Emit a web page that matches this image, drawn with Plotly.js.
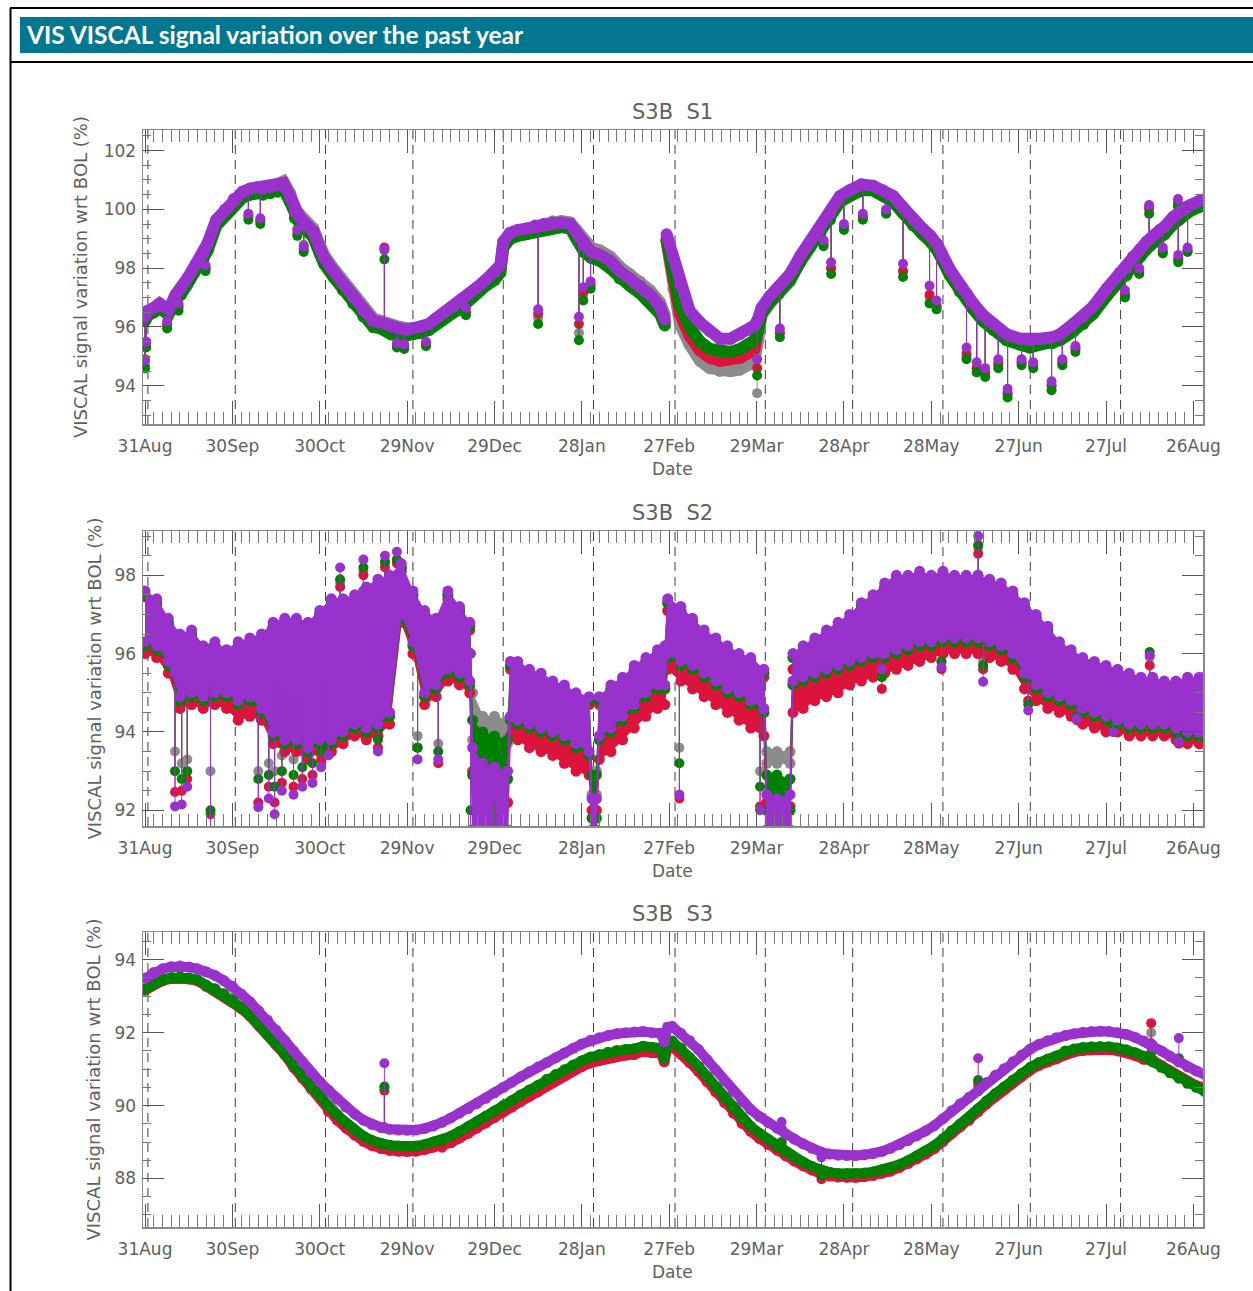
<!DOCTYPE html>
<html>
<head>
<meta charset="utf-8">
<script src="https://cdn.plot.ly/plotly-3.0.1.min.js"></script>
<style>
  html, body { margin: 0; padding: 0; background: #fff; }
  #chart { width: 1253px; height: 1291px; }
</style>
</head>
<body>
<div id="chart"></div>
<script>
// ---------------- Time axis ----------------
const START_DATE = '2022-08-31';            // day 0 of all day-offset arrays
const tickDays   = [0, 30, 60, 90, 120, 150, 180, 210, 240, 270, 300, 330, 360];
const tickText   = ['31Aug', '30Sep', '30Oct', '29Nov', '29Dec', '28Jan', '27Feb',
                    '29Mar', '28Apr', '28May', '27Jun', '27Jul', '26Aug'];
const monthStarts = ['2022-09-01', '2022-10-01', '2022-11-01', '2022-12-01', '2023-01-01',
                     '2023-02-01', '2023-03-01', '2023-04-01', '2023-05-01', '2023-06-01',
                     '2023-07-01', '2023-08-01'];
const dayRange = [-0.69, 363.3];

// ---------------- S3B S1: daily trend per channel ----------------
const s1Days = [0,1,3,5,7,8.2,10.5,12.3,14.5,17.5,
  20,21.5,24.5,27.5,30.5,33.5,36,38.5,40.5,43,
  45.5,47.5,49.8,51.5,53,55.2,57.8,60,61.5,64.7,
  68,71.5,75,78.4,81,84.5,87.5,90,92,94.5,
  97.5,100,103,106,108,111,114,117,120,122,
  123,125.3,128,131,134,137,140,143,146,148.2,
  150.8,153.3,156.2,159.7,163,166.5,169.9,173.4,176.8,178.5,
  178.8,179.1,181.4,183.7,187,190.6,194,197.4,201,204.3,
  207,209.3,210.6,211.7,214.6,217.5,221.5,224.9,228.3,231.8,
  235.2,238.6,242,246,250,253.4,257,260,263.7,267,
  269.7,272.1,276.4,279.8,282.4,284.4,287.8,291.3,295.9,300.4,
  303.9,307.3,311.6,314.2,318.7,322.2,325.6,330.2,334.8,337,
  339.3,341.8,343.9,348.5,350,353.1,355.1,357.7,359,362.3,
  364];
const s1Gray = [96.3,96.5,96.6,96.75,96.6,96.55,97.05,97.25,97.6,98.1,
  98.45,98.8,99.6,99.95,100.3,100.55,100.7,100.75,100.7,100.8,
  100.85,100.95,100.55,100.0,99.85,99.6,99.35,98.8,98.45,98.0,
  97.55,97.1,96.65,96.3,96.2,96.05,96.0,95.95,95.95,95.95,
  96.0,96.2,96.4,96.6,96.75,97.0,97.25,97.5,97.75,98.0,
  98.8,99.1,99.2,99.25,99.4,99.5,99.6,99.6,99.55,99.3,
  98.85,98.7,98.6,98.4,98.05,97.8,97.55,97.25,96.85,96.4,
  null,98.9,97.3,96.1,95.4,94.85,94.6,94.5,94.5,94.55,
  94.7,94.85,95.6,96.4,96.8,97.1,97.55,98.2,98.7,99.15,
  99.7,100.3,100.5,100.7,100.7,100.55,100.35,100.0,99.55,99.25,
  99.0,98.7,97.9,97.35,97.05,96.75,96.35,96.05,95.7,95.5,
  95.45,95.5,95.6,95.7,96.05,96.3,96.65,97.25,97.8,97.95,
  98.35,98.6,98.85,99.25,99.35,99.7,99.85,100.05,100.1,100.25,
  100.3];
const s1Red = [96.25,96.45,96.55,96.7,96.55,96.5,97.0,97.2,97.55,98.05,
  98.4,98.75,99.5,99.9,100.25,100.5,100.6,100.65,100.6,100.65,
  100.7,100.8,100.35,99.8,99.65,99.4,99.15,98.6,98.25,97.8,
  97.35,96.9,96.45,96.1,96.05,95.9,95.85,95.8,95.85,95.9,
  96.0,96.15,96.35,96.55,96.7,96.95,97.2,97.45,97.7,97.95,
  98.75,99.05,99.15,99.2,99.3,99.4,99.45,99.45,99.4,99.1,
  98.6,98.45,98.3,98.1,97.75,97.5,97.25,96.95,96.55,96.15,
  null,98.95,97.6,96.45,95.7,95.2,94.95,94.85,94.9,94.95,
  95.1,95.25,96.0,96.5,96.9,97.2,97.65,98.25,98.75,99.2,
  99.7,100.3,100.5,100.7,100.65,100.5,100.3,99.95,99.5,99.2,
  98.95,98.65,97.8,97.25,96.95,96.65,96.25,95.95,95.6,95.45,
  95.4,95.45,95.5,95.6,95.95,96.15,96.5,97.1,97.65,97.8,
  98.2,98.45,98.7,99.1,99.2,99.55,99.7,99.95,100.0,100.15,
  100.2];
const s1Green = [96.2,96.4,96.5,96.65,96.5,96.45,96.95,97.1,97.45,97.95,
  98.3,98.6,99.45,99.8,100.15,100.4,100.5,100.55,100.5,100.55,
  100.6,100.7,100.25,99.7,99.55,99.3,99.05,98.5,98.15,97.7,
  97.25,96.8,96.35,96.0,95.95,95.75,95.7,95.7,95.75,95.8,
  95.9,96.1,96.3,96.5,96.6,96.9,97.15,97.4,97.6,97.85,
  98.7,99.0,99.1,99.15,99.25,99.35,99.4,99.4,99.35,99.0,
  98.55,98.35,98.25,98.0,97.65,97.4,97.15,96.85,96.45,96.05,
  null,99.0,97.9,96.75,96.0,95.5,95.25,95.15,95.15,95.25,
  95.4,95.55,95.9,96.45,96.85,97.15,97.6,98.2,98.7,99.15,
  99.65,100.25,100.45,100.65,100.65,100.5,100.25,99.9,99.45,99.15,
  98.9,98.6,97.75,97.2,96.9,96.6,96.2,95.9,95.55,95.4,
  95.3,95.4,95.45,95.55,95.85,96.1,96.45,97.05,97.6,97.75,
  98.15,98.4,98.65,99.05,99.15,99.5,99.65,99.9,99.95,100.1,
  100.15];
const s1Purple = [96.35,96.55,96.65,96.8,96.65,96.6,97.1,97.3,97.65,98.15,
  98.5,98.85,99.65,100.0,100.35,100.6,100.7,100.75,100.7,100.75,
  100.8,100.9,100.45,99.9,99.75,99.5,99.25,98.7,98.35,97.9,
  97.45,97.0,96.55,96.2,96.15,96.0,95.95,95.9,95.95,96.0,
  96.1,96.3,96.5,96.7,96.85,97.1,97.35,97.6,97.85,98.1,
  98.9,99.2,99.3,99.35,99.45,99.5,99.55,99.55,99.5,99.2,
  98.75,98.55,98.45,98.25,97.9,97.65,97.4,97.1,96.7,96.25,
  null,99.15,98.35,97.45,96.55,96.15,95.85,95.6,95.6,95.75,
  95.9,96.05,96.3,96.65,97.05,97.35,97.8,98.4,98.9,99.35,
  99.85,100.45,100.65,100.85,100.8,100.65,100.45,100.1,99.65,99.35,
  99.1,98.8,97.95,97.4,97.1,96.8,96.4,96.1,95.75,95.6,
  95.55,95.6,95.65,95.75,96.1,96.35,96.7,97.3,97.85,98.0,
  98.4,98.65,98.9,99.3,99.4,99.75,99.9,100.1,100.15,100.3,
  100.35];
// S1 outlier orbits: day, trend level at that day, outlier value per channel
const s1SpikeDays = [0,0.4,7.6,11.5,20.8,35.5,39.6,52.3,54.5,82.2,
  86.5,89,96.5,110.2,135,149,150.5,153,210.2,218,
  233,235.6,240,246.5,254.5,260.3,269.4,271.8,282.1,285.6,
  288.5,293,296.2,301,305,311.3,315,319.5,336.5,341.4,
  344.8,349.5,354.7,354.8,358];
const s1SpikeBase = [96.35,96.35,96.6,97.2,98.6,100.65,100.75,99.8,99.6,96.1,
  96.0,95.95,96.05,97.0,99.45,99.0,98.8,98.6,96.1,97.35,
  99.5,99.9,100.5,100.85,100.6,100.05,99.1,98.85,97.15,96.65,
  96.3,95.95,95.7,95.6,95.55,95.65,95.8,96.15,97.95,98.55,
  98.95,99.35,99.85,99.85,100.1];
const s1SpikeGray = [94.7,95.4,96.1,96.7,98.0,99.8,99.65,99.35,98.8,98.6,
  95.4,95.35,95.45,96.5,96.3,95.8,97.1,97.4,93.75,95.8,
  98.8,98.0,99.4,99.7,99.9,97.9,97.0,96.7,95.0,94.6,
  94.4,94.7,93.7,94.8,94.7,94.0,94.8,95.3,97.15,97.9,
  100.0,98.6,100.2,98.3,98.6];
const s1SpikeRed = [94.9,95.5,96.1,96.7,98.0,99.75,99.6,99.2,98.65,98.7,
  95.35,95.3,95.4,96.5,96.45,96.1,97.2,97.45,94.6,95.8,
  98.85,98.0,99.4,99.75,99.9,97.9,97.1,96.7,95.1,94.6,
  94.45,94.75,93.75,94.8,94.7,94.0,94.8,95.25,97.1,97.85,
  100.05,98.55,100.2,98.3,98.6];
const s1SpikeGreen = [94.6,95.3,95.95,96.55,97.9,99.65,99.5,99.1,98.55,98.3,
  95.3,95.25,95.35,96.4,96.1,95.55,96.9,97.3,94.35,95.65,
  98.75,97.8,99.3,99.65,99.85,97.7,96.8,96.6,94.9,94.45,
  94.3,94.6,93.6,94.7,94.6,93.85,94.7,95.15,97.0,97.8,
  99.85,98.5,100.1,98.2,98.55];
const s1SpikePurple = [94.85,95.5,96.2,96.8,98.1,99.85,99.7,99.3,98.75,98.64,
  95.45,95.4,95.5,96.65,96.6,96.35,97.35,97.55,94.9,95.95,
  98.95,98.2,99.5,99.85,100.0,98.15,97.4,96.9,95.3,94.8,
  94.6,94.9,93.9,94.9,94.8,94.15,94.9,95.35,97.25,98.0,
  100.15,98.7,100.35,98.45,98.7];

// ---------------- S3B S2: upper / lower spread of the daily data ----------------
const s2Days = [0,4,8,12,16,20,24,28,32,36,
  40,44,48,52,56,60,64,68,72,76,
  80,84,88,92,96,100,104,108,111.5,112.5,
  116,120,124.5,125.5,128,132,136,140,144,148,
  152.5,153.5,155,156,160,164,168,172,176,178.5,
  179.5,184,188,192,196,200,204,208,212.5,213.5,
  217,221.5,222.5,226,230,234,238,242,246,250,
  254,258,262,266,270,274,278,282,286,290,
  294,298,302,306,310,314,318,322,326,330,
  334,338,342,346,350,354,358,362,364];
const s2PurpleHi = [97.6,97.4,96.9,96.5,96.6,96.2,96.3,96.1,96.3,96.4,
  96.5,96.8,96.9,96.9,96.8,97.1,97.4,97.4,97.5,97.7,
  97.9,98.0,98.3,97.6,97.1,96.9,97.6,97.2,96.8,93.6,
  93.2,93.1,93.0,95.8,95.8,95.6,95.5,95.3,95.2,95.0,
  94.9,92.3,92.3,94.9,95.2,95.4,95.7,95.9,96.1,96.2,
  97.4,97.2,96.9,96.6,96.4,96.2,96.0,95.9,95.6,92.4,
  92.3,92.4,96.0,96.2,96.4,96.6,96.8,97.0,97.3,97.5,
  97.8,98.0,98.0,98.1,98.0,98.1,98.0,98.0,98.0,97.9,
  97.8,97.6,97.3,97.0,96.7,96.3,96.1,95.9,95.8,95.7,
  95.6,95.5,95.4,95.4,95.3,95.3,95.4,95.4,95.4];
const s2PurpleLo = [96.3,96.2,95.8,94.9,95.0,94.9,95.0,95.0,94.8,94.9,
  94.6,94.0,93.8,93.8,93.6,93.8,93.8,94.0,94.2,94.1,
  94.2,94.5,97.0,96.3,95.0,95.2,95.6,95.5,95.3,91.5,
  91.5,91.5,91.5,94.4,94.3,94.2,94.1,94.0,93.9,93.7,
  93.5,91.5,91.5,93.9,94.1,94.4,94.7,95.0,95.2,95.2,
  96.0,95.8,95.7,95.5,95.3,95.1,95.0,94.8,94.6,91.5,
  91.5,91.5,95.3,95.4,95.5,95.6,95.7,95.8,95.9,96.0,
  96.0,96.1,96.2,96.3,96.3,96.4,96.4,96.4,96.4,96.3,
  96.2,96.0,95.5,95.2,95.0,94.9,94.8,94.6,94.5,94.4,
  94.3,94.2,94.2,94.2,94.2,94.1,94.0,94.0,94.0];
const s2RedHi = [97.45,97.25,96.75,96.35,96.45,96.05,96.15,95.95,96.15,96.25,
  96.35,96.65,96.75,96.75,96.65,96.95,97.25,97.25,97.35,97.55,
  97.75,97.85,98.1,97.4,96.9,96.7,97.4,97.0,96.6,93.0,
  92.4,92.3,92.2,95.6,95.6,95.4,95.3,95.1,95.0,94.8,
  94.7,92.0,92.0,94.7,95.0,95.2,95.5,95.7,95.9,96.0,
  97.1,97.0,96.7,96.4,96.2,96.0,95.8,95.7,95.4,92.2,
  92.0,92.1,95.6,95.9,96.1,96.3,96.5,96.7,97.0,97.2,
  97.5,97.7,97.8,97.9,97.8,97.9,97.8,97.8,97.8,97.7,
  97.6,97.4,97.1,96.8,96.5,96.1,95.9,95.7,95.6,95.5,
  95.4,95.3,95.2,95.2,95.1,95.1,95.2,95.2,95.2];
const s2RedLo = [96.0,95.9,95.5,94.6,94.7,94.6,94.7,94.6,94.3,94.4,
  94.3,93.7,93.5,93.5,93.3,93.5,93.5,93.7,93.9,93.8,
  93.9,94.2,96.8,96.0,94.7,94.9,95.3,95.2,95.0,91.5,
  91.5,91.5,91.5,93.9,93.8,93.6,93.5,93.4,93.2,93.0,
  92.9,91.5,91.5,93.3,93.5,93.8,94.1,94.4,94.6,94.7,
  95.6,95.3,95.1,94.9,94.7,94.5,94.3,94.1,93.9,91.5,
  91.5,91.5,94.5,94.6,94.8,94.9,95.0,95.2,95.3,95.4,
  95.5,95.6,95.7,95.8,95.9,96.0,96.0,96.0,96.0,95.9,
  95.8,95.6,95.1,94.8,94.6,94.5,94.4,94.2,94.1,94.0,
  94.0,93.9,93.9,93.9,93.9,93.8,93.7,93.7,93.7];
const s2GreenHi = [97.5,97.3,96.8,96.4,96.5,96.1,96.2,96.0,96.2,96.3,
  96.4,96.7,96.8,96.8,96.7,97.0,97.3,97.3,97.4,97.6,
  97.8,97.9,98.2,97.5,97.0,96.8,97.5,97.1,96.7,94.3,
  94.0,93.9,93.8,95.7,95.7,95.5,95.4,95.2,95.1,94.9,
  94.8,92.9,92.9,94.8,95.1,95.3,95.6,95.8,96.0,96.1,
  97.3,97.1,96.8,96.5,96.3,96.1,95.9,95.8,95.5,92.9,
  92.9,92.8,95.9,96.1,96.3,96.5,96.7,96.9,97.2,97.4,
  97.7,97.9,97.9,98.0,97.9,98.0,97.9,97.9,97.9,97.8,
  97.7,97.5,97.2,96.9,96.6,96.2,96.0,95.8,95.7,95.6,
  95.5,95.4,95.3,95.3,95.2,95.2,95.3,95.3,95.3];
const s2GreenLo = [96.2,96.1,95.7,94.8,94.9,94.8,94.9,94.9,94.7,94.8,
  94.5,93.9,93.7,93.7,93.5,93.7,93.7,93.9,94.1,94.0,
  94.1,94.4,96.9,96.2,94.9,95.1,95.5,95.4,95.2,92.9,
  92.9,92.9,92.8,94.3,94.2,94.1,94.0,93.9,93.8,93.6,
  93.4,91.8,91.8,93.8,94.0,94.3,94.6,94.9,95.1,95.1,
  95.9,95.7,95.6,95.4,95.2,95.0,94.9,94.7,94.5,92.0,
  92.0,92.0,95.2,95.3,95.4,95.5,95.6,95.7,95.8,95.9,
  95.9,96.0,96.1,96.2,96.2,96.3,96.3,96.3,96.3,96.2,
  96.1,95.9,95.4,95.1,94.9,94.8,94.7,94.5,94.4,94.3,
  94.2,94.1,94.1,94.1,94.1,94.0,93.9,93.9,93.9];
const s2GrayHi = [97.5,97.3,96.8,96.4,96.5,96.1,96.2,96.0,96.2,96.3,
  96.4,96.7,96.8,96.8,96.7,97.0,97.3,97.3,97.4,97.6,
  97.8,97.9,98.2,97.5,97.0,96.8,97.5,97.1,96.7,95.0,
  94.4,94.4,94.3,95.7,95.7,95.5,95.4,95.2,95.1,94.9,
  94.8,93.0,93.0,94.8,95.1,95.3,95.6,95.8,96.0,96.1,
  97.3,97.1,96.8,96.5,96.3,96.1,95.9,95.8,95.5,93.5,
  93.5,93.5,95.9,96.1,96.3,96.5,96.7,96.9,97.2,97.4,
  97.7,97.9,97.9,98.0,97.9,98.0,97.9,97.9,97.9,97.8,
  97.7,97.5,97.2,96.9,96.6,96.2,96.0,95.8,95.7,95.6,
  95.5,95.4,95.3,95.3,95.2,95.2,95.3,95.3,95.3];
const s2GrayLo = [96.2,96.1,95.7,94.8,94.9,94.8,94.9,94.9,94.7,94.8,
  94.5,93.9,93.7,93.7,93.5,93.7,93.7,93.9,94.1,94.0,
  94.1,94.4,96.9,96.2,94.9,95.1,95.5,95.4,95.2,93.8,
  93.8,93.8,93.7,94.3,94.2,94.1,94.0,93.9,93.8,93.6,
  93.4,92.4,92.4,93.8,94.0,94.3,94.6,94.9,95.1,95.1,
  95.9,95.7,95.6,95.4,95.2,95.0,94.9,94.7,94.5,93.2,
  93.2,93.2,95.2,95.3,95.4,95.5,95.6,95.7,95.8,95.9,
  95.9,96.0,96.1,96.2,96.2,96.3,96.3,96.3,96.3,96.2,
  96.1,95.9,95.4,95.1,94.9,94.8,94.7,94.5,94.4,94.3,
  94.2,94.1,94.1,94.1,94.1,94.0,93.9,93.9,93.9];
// S2 outlier orbits
const s2SpikeDays = [10.3,12.6,14.5,22.5,38.9,42.5,44.5,47,51,54,
  57.5,60.5,63,67,75,80,82.4,86.5,93.6,100.7,
  111.8,183.5,211.2,253,273.5,286.1,287.8,303.3,320,332.5,
  345,355];
const s2SpikeBase = [95.5,95.5,95.3,95.5,95.3,95.5,95.3,95.2,95.0,95.0,
  95.2,95.3,95.4,97.3,97.6,95.5,97.8,98.0,96.5,96.0,
  96.0,96.5,95.2,96.0,96.5,98.0,96.5,95.5,95.0,94.8,
  95.2,94.5];
const s2SpikeGray = [93.5,93.2,93.3,93.0,93.0,93.2,93.0,93.4,93.3,93.5,
  93.6,93.8,94.0,97.8,98.1,94.0,98.3,98.4,93.9,93.7,
  95.0,93.6,93.0,95.5,95.8,98.7,95.8,94.8,94.5,94.1,
  95.9,93.9];
const s2SpikeRed = [92.47,92.5,92.8,91.9,92.2,92.6,92.2,92.7,92.6,92.8,
  92.9,93.3,93.5,97.7,98.0,93.6,98.2,98.3,93.6,93.2,
  91.5,92.3,92.1,95.1,95.6,98.55,95.6,94.8,94.3,94.0,
  95.7,93.7];
const s2SpikeGreen = [93.0,92.8,93.0,92.0,92.8,92.9,92.6,93.0,92.9,93.1,
  93.2,93.5,93.7,97.9,98.2,93.8,98.35,98.4,93.6,93.5,
  92.0,93.2,92.6,95.4,95.8,98.77,95.7,94.7,94.4,94.1,
  96.04,93.8];
const s2SpikePurple = [92.1,92.15,92.6,91.3,92.08,92.3,91.9,92.5,92.4,92.6,
  92.7,93.1,93.4,98.2,98.4,93.5,98.5,98.6,93.3,93.3,
  91.3,92.4,92.0,95.6,95.66,99.0,95.28,94.55,94.34,94.0,
  95.95,93.75];

// ---------------- S3B S3: daily trend per channel ----------------
const s3Days = [0,3,6,9,12,15,18,21,24,27,
  30,33,36,39,42,45,48,51,54,57,
  60,63,66,69,72,75,78,81,84,87,
  90,93,96,99,102,105,108,111,114,117,
  120,123,126,129,132,135,138,141,144,147,
  150,153,156,159,162,165,168,171,174,177,
  178.3,179.5,181,184,187,190,193,196,199,202,
  205,208,211,214,217,220,223,226,229,232,
  235,238,241,244,247,250,253,256,259,262,
  265,268,271,274,277,280,283,286,289,292,
  295,298,301,304,307,310,313,316,319,322,
  325,328,331,334,337,340,343,346,349,352,
  355,358,361,364];
const s3Gray = [93.18,93.34,93.44,93.5,93.52,93.49,93.44,93.31,93.21,93.07,
  92.91,92.7,92.49,92.24,91.99,91.71,91.43,91.12,90.82,90.53,
  90.28,89.96,89.72,89.5,89.31,89.14,89.02,88.94,88.89,88.87,
  88.86,88.87,88.91,88.98,88.99,89.11,89.24,89.37,89.51,89.65,
  89.8,89.95,90.09,90.24,90.38,90.51,90.66,90.79,90.92,91.05,
  91.17,91.27,91.34,91.4,91.45,91.48,91.5,91.58,91.55,91.53,
  91.28,91.7,91.72,91.53,91.28,91.04,90.76,90.47,90.18,89.89,
  89.61,89.39,89.2,89.03,88.86,88.7,88.56,88.43,88.31,88.21,
  88.15,88.12,88.11,88.11,88.13,88.16,88.22,88.23,88.33,88.44,
  88.57,88.7,88.85,89.04,89.26,89.45,89.63,89.86,90.08,90.28,
  90.46,90.65,90.83,91.0,91.13,91.23,91.31,91.46,91.51,91.55,
  91.57,91.58,91.57,91.54,91.49,91.41,91.31,91.23,91.08,90.93,
  90.78,90.64,90.53,90.45];
const s3Red = [93.16,93.32,93.42,93.48,93.5,93.47,93.42,93.27,93.17,93.03,
  92.87,92.66,92.45,92.2,91.95,91.67,91.39,91.05,90.75,90.46,
  90.21,89.84,89.6,89.38,89.19,89.02,88.9,88.82,88.77,88.75,
  88.74,88.75,88.79,88.86,88.86,88.98,89.11,89.24,89.38,89.52,
  89.67,89.82,89.96,90.11,90.25,90.38,90.56,90.69,90.82,90.95,
  91.07,91.17,91.24,91.3,91.35,91.38,91.4,91.48,91.45,91.43,
  91.2,91.6,91.62,91.43,91.18,90.94,90.66,90.37,90.08,89.79,
  89.51,89.29,89.1,88.93,88.78,88.62,88.48,88.35,88.23,88.13,
  88.07,88.04,88.03,88.03,88.05,88.08,88.14,88.2,88.3,88.41,
  88.54,88.67,88.82,89.01,89.23,89.42,89.6,89.83,90.05,90.25,
  90.43,90.62,90.8,90.97,91.1,91.2,91.28,91.42,91.47,91.51,
  91.53,91.54,91.53,91.5,91.45,91.37,91.27,91.25,91.1,90.95,
  90.8,90.66,90.55,90.5];
const s3Green = [93.19,93.35,93.45,93.51,93.53,93.5,93.45,93.3,93.2,93.06,
  92.9,92.69,92.48,92.23,91.98,91.7,91.42,91.12,90.82,90.53,
  90.28,89.98,89.74,89.52,89.33,89.16,89.04,88.96,88.91,88.89,
  88.88,88.89,88.93,89.0,89.04,89.16,89.29,89.42,89.56,89.7,
  89.85,90.0,90.14,90.29,90.43,90.56,90.72,90.85,90.98,91.11,
  91.23,91.33,91.4,91.46,91.51,91.54,91.56,91.63,91.6,91.58,
  91.3,91.75,91.77,91.58,91.32,91.08,90.8,90.51,90.22,89.93,
  89.65,89.43,89.24,89.07,88.88,88.72,88.58,88.45,88.33,88.23,
  88.17,88.14,88.13,88.13,88.15,88.18,88.24,88.28,88.38,88.49,
  88.62,88.75,88.9,89.09,89.31,89.5,89.68,89.91,90.13,90.33,
  90.51,90.7,90.88,91.05,91.18,91.28,91.36,91.5,91.55,91.59,
  91.61,91.62,91.61,91.58,91.53,91.45,91.35,91.2,91.05,90.9,
  90.75,90.61,90.5,90.38];
const s3Purple = [93.49,93.65,93.75,93.81,93.83,93.8,93.75,93.67,93.57,93.43,
  93.27,93.06,92.85,92.6,92.35,92.07,91.79,91.5,91.2,90.91,
  90.66,90.42,90.18,89.96,89.77,89.6,89.48,89.4,89.35,89.33,
  89.32,89.33,89.37,89.44,89.54,89.66,89.79,89.92,90.06,90.2,
  90.35,90.5,90.64,90.79,90.93,91.06,91.18,91.31,91.44,91.57,
  91.69,91.79,91.86,91.92,91.97,92.0,92.02,92.03,92.0,91.98,
  91.75,92.15,92.17,91.98,91.78,91.54,91.26,90.97,90.68,90.39,
  90.11,89.89,89.7,89.53,89.38,89.22,89.08,88.95,88.83,88.73,
  88.67,88.64,88.63,88.63,88.65,88.68,88.74,88.83,88.93,89.04,
  89.17,89.3,89.45,89.64,89.86,90.05,90.23,90.41,90.63,90.83,
  91.01,91.2,91.38,91.55,91.68,91.78,91.86,91.92,91.97,92.01,
  92.03,92.04,92.03,92.0,91.95,91.87,91.77,91.65,91.5,91.35,
  91.2,91.06,90.95,90.85];
// S3 outlier orbits
const s3SpikeDays   = [82.2, 218.6, 232.3, 286.1, 345.5, 355];
const s3SpikeBase   = [89.4, 89.35, 88.72, 90.4, 91.7, 91.2];
const s3SpikeGray   = [90.5, 88.98, 88.05, 90.65, 92.0, 91.28];
const s3SpikeRed    = [90.41, 88.9, 87.98, 90.57, 92.26, 91.25];
const s3SpikeGreen  = [90.52, 89.0, 88.08, 90.7, 91.45, 91.3];
const s3SpikePurple = [91.16, 89.55, 88.58, 91.3, 91.6, 91.85];

// ---------------- Figure ----------------
const W = 1253, H = 1291;
const px = v => v / W;          // page pixel -> paper x
const py = v => 1 - v / H;      // page pixel -> paper y
const DAY_MS = 86400000;
const T0 = Date.parse(START_DATE + 'T00:00:00Z');
const toDate = d => new Date(T0 + d * DAY_MS).toISOString().replace('T', ' ').slice(0, 19);

const CHANNELS = ['gray', 'red', 'green', 'purple'];
const COLORS = { gray: '#8c8c8c', red: '#dc143c', green: '#008000', purple: '#9932cc' };
const FONT = 'DejaVu Sans, Liberation Sans, sans-serif';
const TEXT_COLOR = '#606060';

const panels = [
  { name: 'S3B\u00a0\u00a0S1', top: 130, bottom: 424, range: [92.7, 102.7], yTitleX: 81, kind: 'trend',
    bandWidth: 12, markerSize: 12,
    days: s1Days, trend: { gray: s1Gray, red: s1Red, green: s1Green, purple: s1Purple },
    spikes: { days: s1SpikeDays, base: s1SpikeBase,
              gray: s1SpikeGray, red: s1SpikeRed, green: s1SpikeGreen, purple: s1SpikePurple } },
  { name: 'S3B\u00a0\u00a0S2', top: 531, bottom: 826, range: [91.6, 99.13], yTitleX: 94, kind: 'spread',
    markerSize: 11,
    days: s2Days,
    hi: { gray: s2GrayHi, red: s2RedHi, green: s2GreenHi, purple: s2PurpleHi },
    lo: { gray: s2GrayLo, red: s2RedLo, green: s2GreenLo, purple: s2PurpleLo },
    spikes: { days: s2SpikeDays, base: s2SpikeBase,
              gray: s2SpikeGray, red: s2SpikeRed, green: s2SpikeGreen, purple: s2SpikePurple } },
  { name: 'S3B\u00a0\u00a0S3', top: 932, bottom: 1227, range: [86.67, 94.76], yTitleX: 93, kind: 'trend',
    bandWidth: 10, markerSize: 11,
    days: s3Days, trend: { gray: s3Gray, red: s3Red, green: s3Green, purple: s3Purple },
    spikes: { days: s3SpikeDays, base: s3SpikeBase,
              gray: s3SpikeGray, red: s3SpikeRed, green: s3SpikeGreen, purple: s3SpikePurple } }
];

const traces = [];
const layout = {
  width: W, height: H,
  margin: { l: 0, r: 0, t: 0, b: 0, pad: 0 },
  paper_bgcolor: '#ffffff', plot_bgcolor: '#ffffff',
  showlegend: false,
  shapes: [], annotations: []
};

function baseTrace(n, color, size) {
  return { type: 'scatter', mode: 'lines+markers', xaxis: 'x' + n, yaxis: 'y' + n,
           marker: { color: color, size: size, line: { width: 0 } },
           hoverinfo: 'skip', connectgaps: false };
}

panels.forEach((p, i) => {
  const n = i === 0 ? '' : String(i + 1);
  const xs = p.days.map(toDate);

  CHANNELS.forEach(key => {
    const c = COLORS[key];
    if (p.kind === 'trend') {
      traces.push(Object.assign(baseTrace(n, c, p.markerSize),
        { x: xs, y: p.trend[key], line: { color: c, width: p.bandWidth } }));
    } else {
      traces.push(Object.assign(baseTrace(n, c, p.markerSize),
        { x: xs, y: p.lo[key], line: { color: c, width: 1 } }));
      traces.push(Object.assign(baseTrace(n, c, p.markerSize),
        { x: xs, y: p.hi[key], line: { color: c, width: 1 }, fill: 'tonexty', fillcolor: c }));
    }
    // outliers: thin line from the trend level out to the outlying value
    const sx = [], sy = [];
    p.spikes.days.forEach((d, k) => {
      sx.push(toDate(d), toDate(d), null);
      sy.push(p.spikes.base[k], p.spikes[key][k], null);
    });
    traces.push(Object.assign(baseTrace(n, c, 10), { x: sx, y: sy, line: { color: c, width: 1 } }));
  });

  layout['xaxis' + n] = {
    type: 'date', domain: [px(143), px(1203)], anchor: 'y' + n,
    range: [toDate(dayRange[0]), toDate(dayRange[1])],
    showline: true, linecolor: '#8a8a8a', linewidth: 1.5, mirror: 'ticks',
    ticks: 'inside', ticklen: 23, tickwidth: 1, tickcolor: '#555',
    tickmode: 'array', tickvals: tickDays.map(toDate), ticktext: tickText,
    ticklabelstandoff: 6,
    tickfont: { family: FONT, size: 17, color: TEXT_COLOR },
    minor: { ticks: 'inside', ticklen: 12, tickwidth: 1, tickcolor: '#777',
             tickmode: 'linear', tick0: toDate(0), dtick: 3 * DAY_MS },
    showgrid: false, zeroline: false, fixedrange: true
  };
  layout['yaxis' + n] = {
    domain: [py(p.bottom), py(p.top)], anchor: 'x' + n, range: p.range,
    showline: true, linecolor: '#8a8a8a', linewidth: 1.5, mirror: 'ticks',
    ticks: 'inside', ticklen: 21, tickwidth: 1, tickcolor: '#555',
    tickmode: 'linear', tick0: 0, dtick: 2, ticklabelstandoff: 2,
    tickfont: { family: FONT, size: 17, color: TEXT_COLOR },
    minor: { ticks: 'inside', ticklen: 8, tickwidth: 1, tickcolor: '#777', dtick: 0.5 },
    showgrid: false, zeroline: false, fixedrange: true
  };

  // dashed line at the first day of every month
  monthStarts.forEach(m => {
    layout.shapes.push({
      type: 'line', xref: 'x' + n, yref: 'y' + n + ' domain',
      x0: m, x1: m, y0: 0, y1: 1, layer: 'below',
      line: { color: '#3c3c3c', width: 1, dash: '9px,6px' }
    });
  });

  const cy = (p.top + p.bottom) / 2;
  layout.annotations.push(
    { xref: 'paper', yref: 'paper', x: px(672), y: py(p.top - 18), xanchor: 'center', yanchor: 'middle',
      text: p.name, showarrow: false, font: { family: FONT, size: 21, color: TEXT_COLOR } },
    { xref: 'paper', yref: 'paper', x: px(672), y: py(p.bottom + 45), xanchor: 'center', yanchor: 'middle',
      text: 'Date', showarrow: false, font: { family: FONT, size: 17, color: TEXT_COLOR } },
    { xref: 'paper', yref: 'paper', x: px(p.yTitleX), y: py(cy), xanchor: 'center', yanchor: 'middle',
      text: 'VISCAL signal variation wrt BOL (%)', textangle: -90, showarrow: false,
      font: { family: FONT, size: 18, color: TEXT_COLOR } }
  );
});

// page frame and header band
layout.shapes.push(
  { type: 'rect', xref: 'paper', yref: 'paper', x0: px(20), x1: 1, y0: py(53), y1: py(17),
    fillcolor: '#03778f', line: { width: 0 }, layer: 'above' },
  { type: 'line', xref: 'paper', yref: 'paper', x0: px(10), x1: 1, y0: py(8), y1: py(8),
    line: { color: '#000', width: 2 } },
  { type: 'line', xref: 'paper', yref: 'paper', x0: px(10), x1: 1, y0: py(62), y1: py(62),
    line: { color: '#000', width: 2 } },
  { type: 'line', xref: 'paper', yref: 'paper', x0: px(10.5), x1: px(10.5), y0: py(8), y1: 0,
    line: { color: '#000', width: 2 } }
);
layout.annotations.push({
  xref: 'paper', yref: 'paper', x: px(24), y: py(35), xanchor: 'left', yanchor: 'middle',
  text: '<b>VIS VISCAL signal variation over the past year</b>', showarrow: false,
  font: { family: 'Lato, Open Sans, sans-serif', size: 24.5, color: '#ffffff' }
});

Plotly.newPlot('chart', traces, layout, { staticPlot: true, displayModeBar: false });
</script>
</body>
</html>
